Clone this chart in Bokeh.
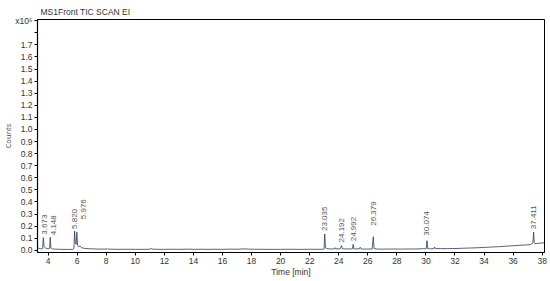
from bokeh.plotting import figure
from bokeh.models import Range1d, FixedTicker, ColumnDataSource
from bokeh.core.properties import value
from bokeh.embed import file_html
from bokeh.resources import INLINE
import math

# chromatogram trace (time in min, counts in units of 1e5)
time_min = [3.30, 3.40, 3.55, 3.62, 3.673, 3.72, 3.80, 3.90, 4.00, 4.10, 4.148, 4.19,
            4.30, 4.50, 4.80, 5.10, 5.40, 5.70, 5.78, 5.820, 5.87, 5.93, 5.976, 6.03,
            6.10, 6.20, 6.30, 6.50, 6.80, 7.10, 7.50, 8.00, 8.05, 8.10, 8.50, 9.00,
            9.50, 10.0, 10.5, 11.0, 11.1, 11.2, 11.6, 12.0, 12.5, 13.0, 13.6, 14.0,
            14.5, 15.0, 15.5, 16.0, 16.5, 17.0, 17.4, 17.8, 18.2, 18.8, 19.5, 20.0,
            20.5, 21.0, 21.5, 22.0, 22.5, 22.9, 22.99, 23.035, 23.09, 23.2, 23.4, 23.7,
            23.75, 23.8, 24.1, 24.192, 24.25, 24.5, 24.94, 24.992, 25.05, 25.4, 25.48, 25.55,
            25.9, 26.3, 26.379, 26.43, 26.7, 27.2, 27.8, 28.3, 28.8, 29.3, 29.75, 29.8,
            29.85, 30.02, 30.074, 30.12, 30.3, 30.55, 30.6, 30.65, 31.0, 31.5, 32.0, 32.5,
            33.0, 33.5, 34.0, 34.5, 35.0, 35.5, 36.0, 36.5, 37.0, 37.2, 37.3, 37.36,
            37.411, 37.45, 37.5, 37.7, 37.9, 38.15]
counts = [0.020, 0.015, 0.012, 0.015, 0.105, 0.030, 0.020, 0.015, 0.014, 0.014, 0.108, 0.020,
          0.012, 0.010, 0.008, 0.008, 0.007, 0.008, 0.015, 0.160, 0.060, 0.050, 0.150, 0.040,
          0.030, 0.035, 0.022, 0.016, 0.013, 0.012, 0.010, 0.010, 0.016, 0.010, 0.009, 0.008,
          0.009, 0.008, 0.008, 0.009, 0.016, 0.010, 0.008, 0.008, 0.009, 0.008, 0.010, 0.008,
          0.009, 0.008, 0.009, 0.008, 0.010, 0.009, 0.012, 0.010, 0.009, 0.008, 0.008, 0.008,
          0.009, 0.008, 0.008, 0.009, 0.008, 0.009, 0.012, 0.135, 0.020, 0.014, 0.011, 0.012,
          0.022, 0.012, 0.012, 0.040, 0.013, 0.011, 0.012, 0.050, 0.012, 0.011, 0.025, 0.011,
          0.010, 0.011, 0.112, 0.014, 0.010, 0.010, 0.011, 0.010, 0.011, 0.011, 0.013, 0.018,
          0.012, 0.014, 0.080, 0.015, 0.012, 0.014, 0.028, 0.015, 0.014, 0.014, 0.015, 0.017,
          0.019, 0.021, 0.024, 0.027, 0.030, 0.034, 0.038, 0.042, 0.045, 0.048, 0.055, 0.060,
          0.150, 0.065, 0.055, 0.057, 0.060, 0.062]

# annotated peaks
peak_rt = [3.673, 4.148, 5.820, 5.976, 23.035, 24.192, 24.992, 26.379, 30.074, 37.411]
peak_height = [0.105, 0.108, 0.160, 0.150, 0.135, 0.040, 0.050, 0.112, 0.080, 0.150]
peak_text = ["3.673", "4.148", "5.820", "5.976", "23.035", "24.192", "24.992",
             "26.379", "30.074", "37.411"]
# label placement offsets (pixels)
label_dx = [1, 3, 0, 7, 0, 0, 0, 0, 0, 0]
label_dy = [-3, -2, -2, -13, -3, -3, -3, -11, -5, -3]

x_ticks = [4, 6, 8, 10, 12, 14, 16, 18, 20, 22, 24, 26, 28, 30, 32, 34, 36, 38]
y_ticks = [0.0, 0.1, 0.2, 0.3, 0.4, 0.5, 0.6, 0.7, 0.8, 0.9, 1.0, 1.1, 1.2, 1.3,
           1.4, 1.5, 1.6, 1.7, 1.8, 1.9]
y_tick_labels = ["0.0", "0.1", "0.2", "0.3", "0.4", "0.5", "0.6", "0.7", "0.8", "0.9",
                 "1.0", "1.1", "1.2", "1.3", "1.4", "1.5", "1.6", "1.7", "", "x10⁵"]

FONT = "Liberation Sans"
TXT = "#333333"

p = figure(width=550, height=281, output_backend="svg", toolbar_location=None,
           x_range=Range1d(3.27, 38.16), y_range=Range1d(-0.018, 1.91),
           min_border_left=35, min_border_right=6, min_border_top=19, min_border_bottom=29,
           title="MS1Front TIC SCAN EI")
p.background_fill_color = "white"
p.border_fill_color = "white"
p.outline_line_color = "black"
p.outline_line_width = 1
p.xgrid.visible = False
p.ygrid.visible = False

p.title.text_font = FONT
p.title.text_font_size = "8.5px"
p.title.text_font_style = "normal"
p.title.text_color = TXT
p.title.align = "left"
p.title.offset = 3
p.title.standoff = 5

p.line(time_min, counts, line_color="#2a3a5e", line_width=0.8)

src = ColumnDataSource(dict(x=peak_rt, y=peak_height, t=peak_text, dx=label_dx, dy=label_dy))
p.text(x="x", y="y", text="t", source=src, angle=math.pi / 2, x_offset="dx", y_offset="dy",
       text_align="left", text_baseline="middle", text_font=value(FONT),
       text_font_size="8px", text_color="#555555")

for ax in (p.xaxis[0], p.yaxis[0]):
    ax.axis_line_color = "black"
    ax.axis_line_width = 1.2
    ax.major_tick_line_color = "black"
    ax.major_tick_in = 0
    ax.major_tick_out = 3
    ax.minor_tick_line_color = None
    ax.major_label_text_font = FONT
    ax.major_label_text_font_size = "8.5px"
    ax.major_label_text_color = TXT
    ax.major_label_standoff = 2

p.xaxis.ticker = FixedTicker(ticks=x_ticks)
p.xaxis.axis_label = "Time [min]"
p.xaxis.axis_label_text_font = FONT
p.xaxis.axis_label_text_font_size = "8.5px"
p.xaxis.axis_label_text_font_style = "normal"
p.xaxis.axis_label_text_color = TXT
p.xaxis.axis_label_standoff = 0

p.yaxis.ticker = FixedTicker(ticks=y_ticks)
p.yaxis.major_label_overrides = {t: s for t, s in zip(y_ticks, y_tick_labels)}
p.yaxis.axis_label = "Counts"
p.yaxis.axis_label_text_font = "Open Sans"
p.yaxis.axis_label_text_font_size = "7.5px"
p.yaxis.axis_label_text_font_style = "normal"
p.yaxis.axis_label_text_color = "#444444"
p.yaxis.axis_label_standoff = -1

open("out.html", "w").write(file_html(p, INLINE))
